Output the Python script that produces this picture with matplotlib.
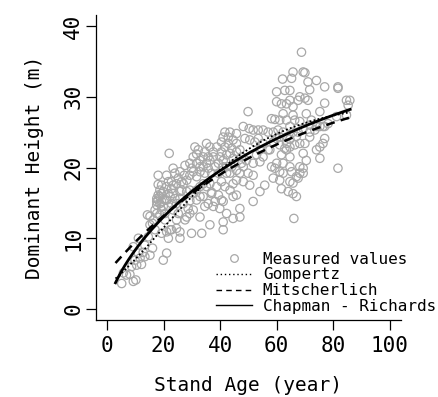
import numpy as np
import matplotlib
matplotlib.use("Agg")
import matplotlib.pyplot as plt
from matplotlib.lines import Line2D

age = [5.2, 9.3, 10.2, 6.9, 8.1, 5.8, 8.7, 10.5, 12.2, 9.9, 11.7, 13.4, 15.2, 16.1, 12.8, 11.1,
       19.9, 21.1, 11.1, 14.6, 13.4, 9.3,
       14.3, 15.2, 16.4, 17.6, 18.1, 18.7, 19.3, 19.9, 20.5, 21.1, 21.7, 22.8, 18.1, 21.1, 18.1,
       22.0, 22.3, 21.7, 22.8, 25.8, 24.6, 25.2, 23.4, 24.6, 25.8, 27.0, 27.6, 28.2, 29.3, 27.0,
       26.4, 28.2, 27.6, 29.3, 30.5, 31.1, 32.3, 35.2, 36.4, 34.0, 32.9, 31.7, 32.9, 30.5, 31.7,
       34.0, 34.6, 32.9, 33.5, 36.4, 35.8, 37.0, 38.8, 38.2, 40.5, 41.1, 41.1, 42.3, 44.6, 45.8,
       47.0, 50.5, 51.7, 54.1, 55.8, 54.1, 57.6, 58.2, 59.4, 60.0, 61.1, 61.7, 62.3, 63.5, 64.7,
       65.3, 64.7, 65.8, 67.0, 66.1, 67.0, 68.2, 69.4, 70.5, 69.4, 70.0, 71.7, 74.1, 75.3, 77.0,
       81.7, 76.4, 75.3, 81.2, 84.7, 85.9, 81.7, 81.7, 77.0, 77.0, 75.3, 74.1, 71.1, 71.7, 69.4,
       70.0, 68.8, 65.8, 65.3, 62.1, 64.7, 62.9, 60.0, 60.0, 61.7, 63.5, 64.7, 65.8, 65.8, 67.6,
       68.2, 70.0, 70.5, 71.7, 69.4, 67.6, 64.7, 62.3, 61.1, 63.5, 64.7, 66.4, 58.2, 59.4, 61.1,
       55.2, 57.0, 58.8, 60.5, 49.9, 53.5, 51.7, 50.3, 48.2, 45.8, 43.5, 42.9, 44.6, 45.8, 48.8,
       50.5, 52.3, 53.5, 54.1, 57.0, 55.2, 52.9, 51.7, 49.3, 48.2, 49.9, 51.7, 47.0, 45.8, 43.5,
       42.3, 41.1, 40.5, 40.5, 41.7, 42.3, 43.5, 44.6, 45.8, 47.0, 47.6, 38.8, 37.6, 38.2, 39.4,
       37.0, 35.8, 34.6, 36.4, 40.5, 41.7, 43.5, 44.6, 48.2, 45.8, 47.6, 37.0, 35.2, 29.3, 28.2,
       26.4, 29.3, 29.9, 31.7, 32.9, 30.5, 34.6, 35.8, 31.7, 24.6, 23.4, 25.8, 24.0, 22.8, 21.7,
       19.3, 17.0, 17.6, 18.7, 20.5, 15.2, 16.1, 17.0, 19.3, 21.1, 24.6, 25.8, 29.9, 28.7, 30.5,
       29.3, 31.7, 32.9, 34.0, 41.1, 39.4, 39.9, 37.6, 47.0, 44.6, 55.2, 58.8, 62.3, 63.5, 66.4,
       68.2, 71.1, 65.8, 64.7, 67.0, 68.2, 63.5, 60.0, 61.1, 62.9, 61.7, 64.7, 68.2, 69.4, 67.6,
       65.8, 64.1, 61.1, 58.8, 62.3, 75.3, 76.4, 77.0, 78.2, 84.7, 85.3, 71.7, 73.5, 74.1, 72.3,
       17.6, 18.7, 18.1, 19.3, 19.9, 20.5, 17.6, 18.7, 19.3, 21.1, 22.3, 22.8, 23.4, 21.7,
       41.1, 41.7, 42.9, 44.1, 41.1, 42.3, 44.1, 45.2, 40.0, 39.4, 37.6, 36.4, 35.2, 34.0, 32.9,
       24.0, 25.2, 23.4, 25.8, 27.3]
height = [3.6, 3.9, 4.1, 4.8, 4.9, 5.1, 6.0, 6.2, 6.3, 6.9, 7.2, 7.4, 7.6, 8.6, 8.0, 7.9,
          6.9, 7.9, 10.0, 10.2, 9.0, 8.8,
          13.3, 11.9, 12.6, 13.5, 15.4, 15.9, 15.2, 14.5, 13.5, 15.4, 16.3, 17.0, 18.9, 18.9, 17.6,
          22.0, 11.2, 10.0, 11.2, 10.0, 12.6, 13.5, 14.0, 14.9, 15.6, 14.9, 12.6, 13.0, 13.5, 17.7,
          18.0, 18.2, 20.3, 18.9, 19.4, 22.9, 22.5, 23.4, 22.9, 21.5, 20.1, 18.7, 17.3, 16.3, 15.4,
          15.9, 14.5, 13.0, 10.7, 11.9, 14.9, 16.3, 17.3, 15.2, 15.4, 12.3, 11.2, 13.5, 15.9, 16.1,
          14.2, 17.5, 15.2, 16.6, 17.5, 20.8, 22.5, 20.1, 19.9, 20.6, 18.2, 17.0, 20.6, 22.5, 21.5,
          19.4, 18.0, 16.3, 15.9, 12.8, 18.7, 20.1, 19.9, 21.0, 22.0, 23.4, 24.3, 22.5, 21.3, 24.1,
          19.9, 25.8, 25.8, 27.2, 29.5, 29.5, 31.2, 31.4, 31.4, 29.1, 27.9, 32.3, 32.1, 31.0, 33.5,
          33.4, 36.3, 33.5, 32.6, 32.5, 30.9, 30.9, 30.7, 29.3, 29.0, 29.0, 29.5, 28.6, 27.4, 29.5,
          30.0, 29.8, 27.6, 26.0, 25.5, 25.0, 25.8, 25.0, 24.3, 23.4, 22.9, 23.2, 26.9, 26.8, 26.7,
          25.3, 25.0, 25.0, 25.3, 27.9, 25.3, 25.3, 25.5, 25.8, 24.8, 25.0, 24.3, 23.9, 23.4, 24.1,
          23.9, 23.6, 24.1, 22.5, 22.5, 21.5, 21.8, 20.6, 21.0, 20.1, 19.2, 18.9, 19.2, 18.2, 19.2,
          20.1, 21.0, 22.2, 23.6, 22.9, 21.8, 22.0, 21.3, 22.2, 22.5, 21.5, 22.9, 21.5, 20.1, 19.2,
          19.2, 19.9, 19.2, 17.7, 18.0, 17.3, 16.8, 17.7, 18.0, 19.6, 20.6, 16.5, 17.3, 16.8, 16.6,
          16.8, 20.6, 19.9, 20.6, 21.0, 21.5, 22.2, 21.5, 21.9, 17.7, 16.3, 16.6, 15.6, 14.9, 14.5,
          14.0, 14.0, 14.7, 13.3, 12.6, 13.1, 12.1, 11.2, 10.7, 10.9, 11.4, 10.9, 10.7, 14.2, 14.0,
          15.3, 16.8, 15.9, 17.7, 15.2, 16.1, 14.2, 14.5, 13.0, 12.8, 23.4, 23.6, 27.6, 26.7, 26.7,
          26.5, 29.5, 25.0, 24.0, 24.4, 23.4, 24.3, 24.1, 23.2, 22.7, 21.8, 20.1, 19.2, 19.2, 18.5,
          17.8, 16.6, 19.4, 18.5, 19.2, 22.9, 23.4, 25.8, 26.2, 27.4, 28.8, 25.0, 25.3, 25.8, 26.7,
          15.2, 14.9, 16.1, 16.3, 16.6, 15.4, 15.6, 16.8, 17.5, 17.3, 15.9, 18.0, 17.5, 18.0,
          24.3, 25.0, 23.4, 22.7, 20.1, 19.2, 20.1, 20.6, 21.5, 20.6, 22.2, 21.0, 20.6, 20.1, 19.4,
          19.2, 18.5, 19.9, 19.4, 18.9]

# Fitted model parameters (curves span the observed age range)
age_min, age_max = 3.0, 86.0
gompertz = dict(A=29.5, b=2.184, k=0.042)
mitscherlich = dict(A=34.5, b=0.8516, k=0.016)
chapman = dict(A=38.4, k=0.012, c=0.7)

x_ticks = [0, 20, 40, 60, 80, 100]
y_ticks = [0, 10, 20, 30, 40]
legend_labels = ["Measured values", "Gompertz", "Mitscherlich", "Chapman - Richards"]

font = "DejaVu Sans Mono"
plt.rcParams["font.family"] = [font]

fig = plt.figure(figsize=(4.38, 3.97), dpi=100)
ax = fig.add_axes([95.7 / 438, (397 - 320.3) / 397, (401 - 95.7) / 438, (320.3 - 14.7) / 397])

ax.scatter(age, height, s=36, facecolors="none", edgecolors="#a8a8a8", linewidths=0.9, zorder=2)

t = np.linspace(age_min, age_max, 200)
hg = gompertz["A"] * np.exp(-gompertz["b"] * np.exp(-gompertz["k"] * t))
hm = mitscherlich["A"] * (1 - mitscherlich["b"] * np.exp(-mitscherlich["k"] * t))
hc = chapman["A"] * (1 - np.exp(-chapman["k"] * t)) ** chapman["c"]
ax.plot(t, hg, color="black", lw=1.3, ls=(0, (1, 1.3)), zorder=3)
ax.plot(t, hm, color="black", lw=1.8, ls=(0, (3.5, 2.5)), zorder=3)
ax.plot(t, hc, color="black", lw=2.0, ls="-", zorder=4)

ax.set_xlim(-4, 104)
ax.set_ylim(-1.6, 41.6)
ax.set_xticks(x_ticks)
ax.set_yticks(y_ticks)
for s in ["top", "right"]:
    ax.spines[s].set_visible(False)
for s in ["left", "bottom"]:
    ax.spines[s].set_linewidth(0.9)
ax.tick_params(direction="out", length=7, width=0.9, labelsize=15)
ax.tick_params(axis="x", pad=4)
ax.tick_params(axis="y", pad=2)
for lbl in ax.get_yticklabels():
    lbl.set_rotation(90)
    lbl.set_va("center")

ax.set_xlabel("Stand Age (year)", fontsize=14, labelpad=15)
ax.set_ylabel("Dominant Height (m)", fontsize=14, labelpad=14)

handles = [
    Line2D([], [], ls="none", marker="o", markersize=5.5, markerfacecolor="none",
           markeredgecolor="#a8a8a8", markeredgewidth=0.9),
    Line2D([], [], color="black", lw=1.0, ls=(0, (1, 2))),
    Line2D([], [], color="black", lw=1.0, ls=(0, (4, 3))),
    Line2D([], [], color="black", lw=1.0, ls="-"),
]
leg = fig.legend(handles, legend_labels, loc="lower right",
                 bbox_to_anchor=(436 / 438, (397 - 314) / 397),
                 frameon=False, fontsize=11.5, handlelength=2.2, handletextpad=0.7,
                 labelspacing=0.05, borderpad=0.0, borderaxespad=0.0)

fig.savefig("out.png", dpi=100)
